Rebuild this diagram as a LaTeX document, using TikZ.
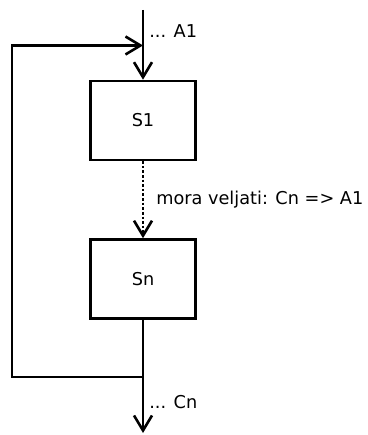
\documentclass[tikz,border=0pt]{standalone}
\usepackage{fontspec}
\setmainfont{DejaVu Sans}
\usetikzlibrary{arrows.meta,positioning}

\begin{document}
\begin{tikzpicture}[x=1pt,y=-1pt,line width=2.6pt,
  box/.style={draw, minimum width=105pt, minimum height=79pt, inner sep=0pt,
    font=\fontsize{17.7}{21}\selectfont},
  flow/.style={-{Straight Barb[length=15pt,width=18pt]}},
  lbl/.style={anchor=west, inner sep=0pt, font=\fontsize{17.7}{21}\selectfont}]
\useasboundingbox (0,0) rectangle (367,435);

% statements
\node[box] (S1) at (143,120.5) {S1};
\node[box] (Sn) at (143,279) {Sn};

% entry, junction and exit points
\coordinate (start) at (143,10);
\coordinate (entry) at (143,45.5);
\coordinate (join) at (143,377);
\coordinate (corner) at (12,377);
\coordinate (end) at (143,433);

\node[lbl] (tagA) at (148,31) {... A1};

\draw (start) -- (entry);
\draw[flow] (entry) -- (S1);
\draw[flow,dotted] (S1) -- (Sn)
  node[lbl, midway, xshift=12pt] (cond) {mora veljati: Cn => A1};
\draw (Sn) -- (join);
\draw[flow] (join) -- (end)
  node[lbl, midway, xshift=5pt, yshift=3pt] (tagC) {... Cn};

% loop back
\draw[flow] (join) -- (corner) |- (entry);
\end{tikzpicture}
\end{document}
